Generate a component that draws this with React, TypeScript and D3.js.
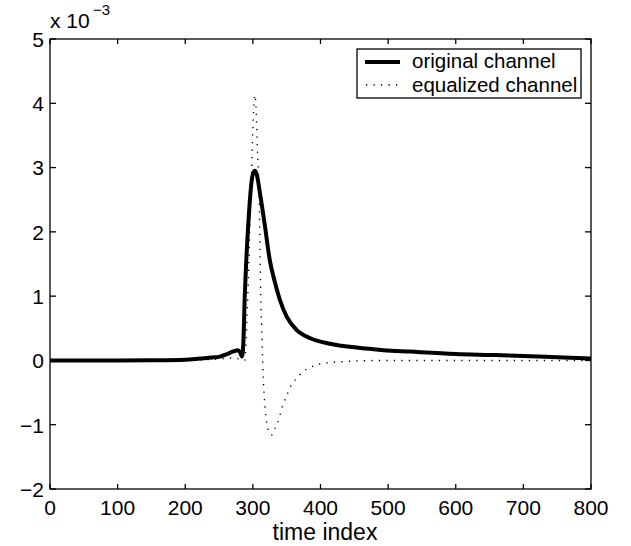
import React from "react";
import * as d3 from "d3";

const xTicks = [0, 100, 200, 300, 400, 500, 600, 700, 800];
const yTicks = [-2, -1, 0, 1, 2, 3, 4, 5];
const seriesNames = ["original channel", "equalized channel"];

// original channel (values in units of 1e-3)
const origT = [0, 100, 150, 200, 222, 240, 251, 262, 271, 278, 281, 284, 286, 288, 290, 293, 296, 298, 300, 303, 306, 310.5, 318, 325, 333, 340, 350, 365, 385, 414, 453, 493, 532, 600, 650, 700, 750, 800];
const origV = [0, 0, 0.003, 0.012, 0.03, 0.045, 0.06, 0.1, 0.14, 0.16, 0.13, 0.06, 0.3, 1.0, 1.5, 2.08, 2.55, 2.78, 2.9, 2.95, 2.88, 2.6, 2.08, 1.56, 1.2, 0.94, 0.68, 0.47, 0.345, 0.26, 0.2, 0.16, 0.137, 0.1, 0.085, 0.07, 0.05, 0.03];

// equalized channel (values in units of 1e-3)
const eqT = [0, 100, 200, 250, 270, 280, 285, 288, 291, 294, 296, 298, 300, 302, 303, 305, 306.6, 308, 309.5, 310.5, 311.5, 313, 314, 315.5, 318, 320.5, 324.3, 327.8, 334, 339, 342, 346.5, 351.4, 357, 364.8, 374.6, 384.5, 399, 419, 448, 500, 600, 700, 800];
const eqV = [0, 0, 0.005, 0.02, 0.04, 0.02, 0.0, 0.0, 0.6, 1.5, 2.3, 2.9, 3.6, 4.05, 4.13, 3.85, 3.33, 2.96, 2.5, 1.82, 1.05, 0.53, 0.16, -0.3, -0.72, -0.98, -1.13, -1.16, -1.03, -0.9, -0.77, -0.64, -0.51, -0.38, -0.28, -0.17, -0.11, -0.055, -0.03, -0.01, 0, 0, 0, 0];

const W = 631;
const H = 546;
const L = 50, R = 591, T = 39, B = 489;
const font = "Arial, 'Liberation Sans', Helvetica, sans-serif";

export default function App() {
  const x = d3.scaleLinear().domain([0, 800]).range([L, R]);
  const y = d3.scaleLinear().domain([-2, 5]).range([B, T]);
  const line = d3.line<number>().curve(d3.curveMonotoneX);
  const origPath = line(origT.map((t, i) => [x(t), y(origV[i])]) as any);
  const eqPath = line(eqT.map((t, i) => [x(t), y(eqV[i])]) as any);
  const fmt = (v: number) => (v < 0 ? "\u2212" + Math.abs(v) : String(v));
  return (
    <svg width={W} height={H} style={{ position: "absolute", left: 0, top: 0, background: "#fff" }} fontFamily={font}>
      <rect x={0} y={0} width={W} height={H} fill="#fff" />
      <defs>
        <clipPath id="plot">
          <rect x={L} y={T} width={R - L} height={B - T} />
        </clipPath>
      </defs>
      <g clipPath="url(#plot)">
        <path d={eqPath || ""} fill="none" stroke="#000" strokeWidth={1.4} strokeDasharray="1.3,6.2" />
        <path d={origPath || ""} fill="none" stroke="#000" strokeWidth={4} strokeLinejoin="round" />
      </g>
      <rect x={L} y={T} width={R - L} height={B - T} fill="none" stroke="#000" strokeWidth={1.3} />
      {xTicks.map((t) => (
        <g key={"x" + t}>
          <line x1={x(t)} x2={x(t)} y1={B} y2={B - 5} stroke="#000" strokeWidth={1.3} />
          <line x1={x(t)} x2={x(t)} y1={T} y2={T + 5} stroke="#000" strokeWidth={1.3} />
          <text x={x(t)} y={514.5} fontSize={21} textAnchor="middle">{fmt(t)}</text>
        </g>
      ))}
      {yTicks.map((v) => (
        <g key={"y" + v}>
          <line x1={L} x2={L + 6} y1={y(v)} y2={y(v)} stroke="#000" strokeWidth={1.3} />
          <line x1={R} x2={R - 6} y1={y(v)} y2={y(v)} stroke="#000" strokeWidth={1.3} />
          <text x={44} y={y(v) + 7.8} fontSize={21} textAnchor="end">{fmt(v)}</text>
        </g>
      ))}
      <text x={50} y={28} fontSize={21}>x 10</text>
      <text x={93} y={15} fontSize={15}>{"\u22123"}</text>
      <text x={325} y={539.5} fontSize={23} textAnchor="middle">time index</text>
      <g>
        <rect x={357} y={49} width={224} height={49} fill="#fff" stroke="#000" strokeWidth={1.3} />
        <line x1={365} x2={400} y1={62} y2={62} stroke="#000" strokeWidth={4} />
        <line x1={366} x2={400} y1={85} y2={85} stroke="#000" strokeWidth={1.4} strokeDasharray="1.3,6.2" />
        <text x={412} y={68} fontSize={20.5}>{seriesNames[0]}</text>
        <text x={412} y={91.5} fontSize={20.5}>{seriesNames[1]}</text>
      </g>
    </svg>
  );
}
